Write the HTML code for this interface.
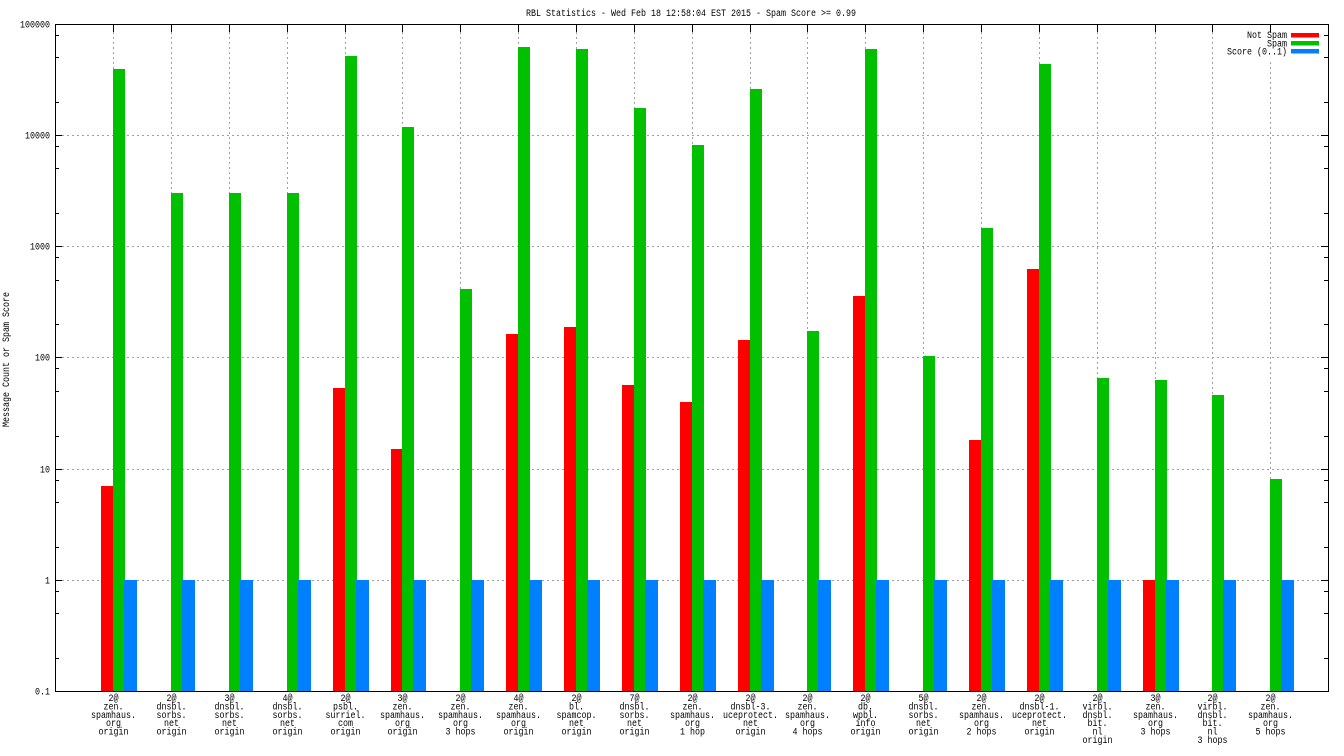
<!DOCTYPE html>
<html><head><meta charset="utf-8"><style>
html,body{margin:0;padding:0;background:#fff;}
svg{display:block;}
text{font-family:"Liberation Mono","DejaVu Sans Mono",monospace;font-size:10px;fill:#000;}
</style></head><body>
<svg width="1344" height="756" viewBox="0 0 1344 756" xmlns="http://www.w3.org/2000/svg">
<rect x="0" y="0" width="1344" height="756" fill="#fff"/>
<text x="526" y="16" textLength="330" lengthAdjust="spacingAndGlyphs">RBL Statistics - Wed Feb 18 12:58:04 EST 2015 - Spam Score &gt;= 0.99</text>
<g stroke="#a0a0a0" stroke-width="1" stroke-dasharray="2,3" shape-rendering="crispEdges">
<line x1="62" y1="135.5" x2="1321" y2="135.5"/>
<line x1="62" y1="246.5" x2="1321" y2="246.5"/>
<line x1="62" y1="357.5" x2="1321" y2="357.5"/>
<line x1="62" y1="469.5" x2="1321" y2="469.5"/>
<line x1="62" y1="580.5" x2="1321" y2="580.5"/>
<line x1="113.5" y1="32" x2="113.5" y2="684"/>
<line x1="171.5" y1="32" x2="171.5" y2="684"/>
<line x1="229.5" y1="32" x2="229.5" y2="684"/>
<line x1="287.5" y1="32" x2="287.5" y2="684"/>
<line x1="345.5" y1="32" x2="345.5" y2="684"/>
<line x1="402.5" y1="32" x2="402.5" y2="684"/>
<line x1="460.5" y1="32" x2="460.5" y2="684"/>
<line x1="518.5" y1="32" x2="518.5" y2="684"/>
<line x1="576.5" y1="32" x2="576.5" y2="684"/>
<line x1="634.5" y1="32" x2="634.5" y2="684"/>
<line x1="692.5" y1="32" x2="692.5" y2="684"/>
<line x1="750.5" y1="32" x2="750.5" y2="684"/>
<line x1="807.5" y1="32" x2="807.5" y2="684"/>
<line x1="865.5" y1="32" x2="865.5" y2="684"/>
<line x1="923.5" y1="32" x2="923.5" y2="684"/>
<line x1="981.5" y1="32" x2="981.5" y2="684"/>
<line x1="1039.5" y1="32" x2="1039.5" y2="684"/>
<line x1="1097.5" y1="32" x2="1097.5" y2="684"/>
<line x1="1155.5" y1="32" x2="1155.5" y2="684"/>
<line x1="1212.5" y1="32" x2="1212.5" y2="684"/>
<line x1="1270.5" y1="32" x2="1270.5" y2="684"/>
</g>
<g shape-rendering="crispEdges">
<g fill="#ff0000">
<rect x="101" y="486" width="12" height="205"/>
<rect x="333" y="388" width="12" height="303"/>
<rect x="391" y="449" width="12" height="242"/>
<rect x="506" y="334" width="12" height="357"/>
<rect x="564" y="327" width="12" height="364"/>
<rect x="622" y="385" width="12" height="306"/>
<rect x="680" y="402" width="12" height="289"/>
<rect x="738" y="340" width="12" height="351"/>
<rect x="853" y="296" width="12" height="395"/>
<rect x="969" y="440" width="12" height="251"/>
<rect x="1027" y="269" width="12" height="422"/>
<rect x="1143" y="580" width="12" height="111"/>
</g>
<g fill="#00c000">
<rect x="113" y="69" width="12" height="622"/>
<rect x="171" y="193" width="12" height="498"/>
<rect x="229" y="193" width="12" height="498"/>
<rect x="287" y="193" width="12" height="498"/>
<rect x="345" y="56" width="12" height="635"/>
<rect x="402" y="127" width="12" height="564"/>
<rect x="460" y="289" width="12" height="402"/>
<rect x="518" y="47" width="12" height="644"/>
<rect x="576" y="49" width="12" height="642"/>
<rect x="634" y="108" width="12" height="583"/>
<rect x="692" y="145" width="12" height="546"/>
<rect x="750" y="89" width="12" height="602"/>
<rect x="807" y="331" width="12" height="360"/>
<rect x="865" y="49" width="12" height="642"/>
<rect x="923" y="356" width="12" height="335"/>
<rect x="981" y="228" width="12" height="463"/>
<rect x="1039" y="64" width="12" height="627"/>
<rect x="1097" y="378" width="12" height="313"/>
<rect x="1155" y="380" width="12" height="311"/>
<rect x="1212" y="395" width="12" height="296"/>
<rect x="1270" y="479" width="12" height="212"/>
</g>
<g fill="#0080ff">
<rect x="124" y="580" width="13" height="111"/>
<rect x="182" y="580" width="13" height="111"/>
<rect x="240" y="580" width="13" height="111"/>
<rect x="298" y="580" width="13" height="111"/>
<rect x="356" y="580" width="13" height="111"/>
<rect x="413" y="580" width="13" height="111"/>
<rect x="471" y="580" width="13" height="111"/>
<rect x="529" y="580" width="13" height="111"/>
<rect x="587" y="580" width="13" height="111"/>
<rect x="645" y="580" width="13" height="111"/>
<rect x="703" y="580" width="13" height="111"/>
<rect x="761" y="580" width="13" height="111"/>
<rect x="818" y="580" width="13" height="111"/>
<rect x="876" y="580" width="13" height="111"/>
<rect x="934" y="580" width="13" height="111"/>
<rect x="992" y="580" width="13" height="111"/>
<rect x="1050" y="580" width="13" height="111"/>
<rect x="1108" y="580" width="13" height="111"/>
<rect x="1166" y="580" width="13" height="111"/>
<rect x="1223" y="580" width="13" height="111"/>
<rect x="1281" y="580" width="13" height="111"/>
</g>
<rect x="1220" y="28" width="101" height="34" fill="#fff"/>
<rect x="1291" y="33" width="28" height="4.7" fill="#ff0000"/>
<rect x="1291" y="41" width="28" height="4.7" fill="#00c000"/>
<rect x="1291" y="49" width="28" height="4.7" fill="#0080ff"/>
</g>
<text x="1247" y="38" textLength="40" lengthAdjust="spacingAndGlyphs">Not Spam</text>
<text x="1267" y="46.3" textLength="20" lengthAdjust="spacingAndGlyphs">Spam</text>
<text x="1227" y="54.6" textLength="60" lengthAdjust="spacingAndGlyphs">Score (0..1)</text>
<g stroke="#000" stroke-width="1" shape-rendering="crispEdges" fill="none">
<rect x="55.5" y="24.5" width="1273" height="667"/>
<path d="M55 135.5h7M55 246.5h7M55 357.5h7M55 469.5h7M55 580.5h7M1328 135.5h-7M1328 246.5h-7M1328 357.5h-7M1328 469.5h-7M1328 580.5h-7"/>
<path d="M55 35.5h4M55 57.5h4M55 102.5h4M55 146.5h4M55 168.5h4M55 213.5h4M55 257.5h4M55 280.5h4M55 324.5h4M55 368.5h4M55 391.5h4M55 436.5h4M55 480.5h4M55 502.5h4M55 547.5h4M55 591.5h4M55 613.5h4M55 658.5h4"/>
<path d="M1328 35.5h-4M1328 57.5h-4M1328 102.5h-4M1328 146.5h-4M1328 168.5h-4M1328 213.5h-4M1328 257.5h-4M1328 280.5h-4M1328 324.5h-4M1328 368.5h-4M1328 391.5h-4M1328 436.5h-4M1328 480.5h-4M1328 502.5h-4M1328 547.5h-4M1328 591.5h-4M1328 613.5h-4M1328 658.5h-4"/>
<path d="M113.5 24v8M171.5 24v8M229.5 24v8M287.5 24v8M345.5 24v8M402.5 24v8M460.5 24v8M518.5 24v8M576.5 24v8M634.5 24v8M692.5 24v8M750.5 24v8M807.5 24v8M865.5 24v8M923.5 24v8M981.5 24v8M1039.5 24v8M1097.5 24v8M1155.5 24v8M1212.5 24v8M1270.5 24v8"/>
</g>
<text x="20" y="27.5" textLength="30" lengthAdjust="spacingAndGlyphs">100000</text>
<text x="25" y="138.5" textLength="25" lengthAdjust="spacingAndGlyphs">10000</text>
<text x="30" y="249.5" textLength="20" lengthAdjust="spacingAndGlyphs">1000</text>
<text x="35" y="360.5" textLength="15" lengthAdjust="spacingAndGlyphs">100</text>
<text x="40" y="472.5" textLength="10" lengthAdjust="spacingAndGlyphs">10</text>
<text x="45" y="583.5" textLength="5" lengthAdjust="spacingAndGlyphs">1</text>
<text x="35" y="694.5" textLength="15" lengthAdjust="spacingAndGlyphs">0.1</text>
<text transform="translate(9,427) rotate(-90)" x="0" y="0" textLength="135" lengthAdjust="spacingAndGlyphs">Message Count or Spam Score</text>
<g text-anchor="middle">
<g transform="translate(113.5 0) scale(0.8333 1)"><text x="0" y="701">2@</text><text x="0" y="709.4">zen.</text><text x="0" y="717.8">spamhaus.</text><text x="0" y="726.2">org</text><text x="0" y="734.6">origin</text></g>
<g transform="translate(171.5 0) scale(0.8333 1)"><text x="0" y="701">2@</text><text x="0" y="709.4">dnsbl.</text><text x="0" y="717.8">sorbs.</text><text x="0" y="726.2">net</text><text x="0" y="734.6">origin</text></g>
<g transform="translate(229.5 0) scale(0.8333 1)"><text x="0" y="701">3@</text><text x="0" y="709.4">dnsbl.</text><text x="0" y="717.8">sorbs.</text><text x="0" y="726.2">net</text><text x="0" y="734.6">origin</text></g>
<g transform="translate(287.5 0) scale(0.8333 1)"><text x="0" y="701">4@</text><text x="0" y="709.4">dnsbl.</text><text x="0" y="717.8">sorbs.</text><text x="0" y="726.2">net</text><text x="0" y="734.6">origin</text></g>
<g transform="translate(345.5 0) scale(0.8333 1)"><text x="0" y="701">2@</text><text x="0" y="709.4">psbl.</text><text x="0" y="717.8">surriel.</text><text x="0" y="726.2">com</text><text x="0" y="734.6">origin</text></g>
<g transform="translate(402.5 0) scale(0.8333 1)"><text x="0" y="701">3@</text><text x="0" y="709.4">zen.</text><text x="0" y="717.8">spamhaus.</text><text x="0" y="726.2">org</text><text x="0" y="734.6">origin</text></g>
<g transform="translate(460.5 0) scale(0.8333 1)"><text x="0" y="701">2@</text><text x="0" y="709.4">zen.</text><text x="0" y="717.8">spamhaus.</text><text x="0" y="726.2">org</text><text x="0" y="734.6">3 hops</text></g>
<g transform="translate(518.5 0) scale(0.8333 1)"><text x="0" y="701">4@</text><text x="0" y="709.4">zen.</text><text x="0" y="717.8">spamhaus.</text><text x="0" y="726.2">org</text><text x="0" y="734.6">origin</text></g>
<g transform="translate(576.5 0) scale(0.8333 1)"><text x="0" y="701">2@</text><text x="0" y="709.4">bl.</text><text x="0" y="717.8">spamcop.</text><text x="0" y="726.2">net</text><text x="0" y="734.6">origin</text></g>
<g transform="translate(634.5 0) scale(0.8333 1)"><text x="0" y="701">7@</text><text x="0" y="709.4">dnsbl.</text><text x="0" y="717.8">sorbs.</text><text x="0" y="726.2">net</text><text x="0" y="734.6">origin</text></g>
<g transform="translate(692.5 0) scale(0.8333 1)"><text x="0" y="701">2@</text><text x="0" y="709.4">zen.</text><text x="0" y="717.8">spamhaus.</text><text x="0" y="726.2">org</text><text x="0" y="734.6">1 hop</text></g>
<g transform="translate(750.5 0) scale(0.8333 1)"><text x="0" y="701">2@</text><text x="0" y="709.4">dnsbl-3.</text><text x="0" y="717.8">uceprotect.</text><text x="0" y="726.2">net</text><text x="0" y="734.6">origin</text></g>
<g transform="translate(807.5 0) scale(0.8333 1)"><text x="0" y="701">2@</text><text x="0" y="709.4">zen.</text><text x="0" y="717.8">spamhaus.</text><text x="0" y="726.2">org</text><text x="0" y="734.6">4 hops</text></g>
<g transform="translate(865.5 0) scale(0.8333 1)"><text x="0" y="701">2@</text><text x="0" y="709.4">db.</text><text x="0" y="717.8">wpbl.</text><text x="0" y="726.2">info</text><text x="0" y="734.6">origin</text></g>
<g transform="translate(923.5 0) scale(0.8333 1)"><text x="0" y="701">5@</text><text x="0" y="709.4">dnsbl.</text><text x="0" y="717.8">sorbs.</text><text x="0" y="726.2">net</text><text x="0" y="734.6">origin</text></g>
<g transform="translate(981.5 0) scale(0.8333 1)"><text x="0" y="701">2@</text><text x="0" y="709.4">zen.</text><text x="0" y="717.8">spamhaus.</text><text x="0" y="726.2">org</text><text x="0" y="734.6">2 hops</text></g>
<g transform="translate(1039.5 0) scale(0.8333 1)"><text x="0" y="701">2@</text><text x="0" y="709.4">dnsbl-1.</text><text x="0" y="717.8">uceprotect.</text><text x="0" y="726.2">net</text><text x="0" y="734.6">origin</text></g>
<g transform="translate(1097.5 0) scale(0.8333 1)"><text x="0" y="701">2@</text><text x="0" y="709.4">virbl.</text><text x="0" y="717.8">dnsbl.</text><text x="0" y="726.2">bit.</text><text x="0" y="734.6">nl</text><text x="0" y="743">origin</text></g>
<g transform="translate(1155.5 0) scale(0.8333 1)"><text x="0" y="701">3@</text><text x="0" y="709.4">zen.</text><text x="0" y="717.8">spamhaus.</text><text x="0" y="726.2">org</text><text x="0" y="734.6">3 hops</text></g>
<g transform="translate(1212.5 0) scale(0.8333 1)"><text x="0" y="701">2@</text><text x="0" y="709.4">virbl.</text><text x="0" y="717.8">dnsbl.</text><text x="0" y="726.2">bit.</text><text x="0" y="734.6">nl</text><text x="0" y="743">3 hops</text></g>
<g transform="translate(1270.5 0) scale(0.8333 1)"><text x="0" y="701">2@</text><text x="0" y="709.4">zen.</text><text x="0" y="717.8">spamhaus.</text><text x="0" y="726.2">org</text><text x="0" y="734.6">5 hops</text></g>
</g>
</svg>
</body></html>
